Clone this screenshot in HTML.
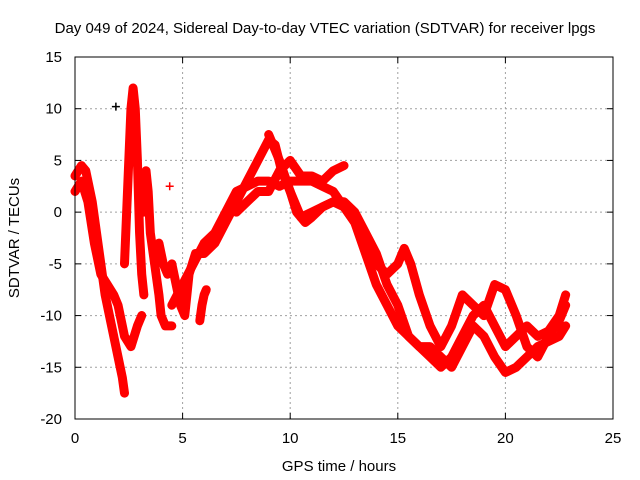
<!DOCTYPE html>
<html><head><meta charset="utf-8"><style>
body{margin:0;background:#fff}
svg{display:block;font-family:"Liberation Sans",sans-serif}
</style></head><body>
<svg id="chart" width="640" height="480">
<rect width="640" height="480" fill="#fff"/>
<text x="325" y="33" font-size="15" text-anchor="middle">Day 049 of 2024, Sidereal Day-to-day VTEC variation (SDTVAR) for receiver lpgs</text>
<g id="grid"></g>
<g id="marks"></g>
<rect x="75" y="57" width="538" height="362" fill="none" stroke="#000" stroke-width="1"/>
<g id="ticks"></g>
<text x="339" y="471" font-size="15" text-anchor="middle">GPS time / hours</text>
<text x="19" y="238" font-size="15" text-anchor="middle" transform="rotate(-90 19 238)">SDTVAR / TECUs</text>
</svg>
<script>
const xTicks=[0,5,10,15,20,25];
const yTicks=[15,10,5,0,-5,-10,-15,-20];
const trackA=[[0,3.5],[0.3,4.5],[0.5,4],[0.8,1],[1,-2],[1.2,-5],[1.4,-8],[1.6,-10],[1.8,-12],[2,-14],[2.2,-16],[2.3,-17.5]];
const trackB=[[0,2],[0.3,3],[0.6,1],[0.9,-3],[1.2,-6],[1.5,-7],[1.8,-8],[2.0,-9],[2.3,-12],[2.6,-13],[2.9,-11],[3.1,-10]];
const trackC=[[2.3,-5],[2.4,0],[2.5,5],[2.6,10],[2.7,12],[2.8,10],[2.9,5],[3.0,-2],[3.1,-6],[3.2,-8]];
const trackD=[[3.2,0],[3.3,4],[3.4,2],[3.5,-2],[3.7,-5],[3.9,-8],[4,-10],[4.2,-11],[4.5,-11]];
const trackE=[[3.9,-3],[4.1,-5],[4.3,-6],[4.5,-5],[4.7,-7],[4.9,-9],[5.1,-10],[5.3,-6],[5.6,-4],[6,-4],[6.5,-3],[7,-1],[7.5,1],[8,3],[8.5,5],[9,7],[9.3,6.5],[9.6,4],[10,2],[10.3,0],[10.7,-1],[11,-0.5],[11.5,0.5],[12,1],[12.5,0.5],[13,-1],[13.5,-4],[14,-7],[14.5,-9],[15,-11],[15.5,-12],[16,-13],[16.5,-14],[17,-15],[17.5,-14],[18,-12],[18.5,-10],[19,-9],[19.5,-11],[20,-13],[20.5,-12],[21,-11],[21.5,-12],[22,-11.5],[22.5,-10],[22.8,-8]];
const trackF=[[4.5,-9],[5,-7],[5.5,-5],[6,-3],[6.5,-2],[7,0],[7.5,2],[8,2.5],[8.5,3],[9,3],[9.5,2.5],[10,3],[10.5,3],[11,3],[11.5,2.5],[12,2],[12.5,0.5],[13,-1],[13.5,-3],[14,-5],[14.5,-6],[15,-5],[15.3,-3.5],[15.6,-5],[16,-8],[16.5,-11],[17,-13],[17.5,-11],[18,-8],[18.5,-9],[19,-10],[19.5,-7],[20,-7.5],[20.5,-10],[21,-13],[21.5,-14],[22,-12],[22.5,-10.5],[22.8,-9]];
const trackG=[[7.5,0],[8,1],[8.5,2],[9,2],[9.5,4],[10,5],[10.5,3.5],[11,3.5],[11.5,3],[12,4],[12.5,4.5]];
const trackH=[[9,7.5],[9.5,5],[10,2],[10.5,-0.5],[11,0],[11.5,0.5],[12,1],[12.5,1],[13,0],[13.5,-2],[14,-4],[14.5,-7],[15,-9],[15.5,-12],[16,-13],[16.5,-13],[17,-14],[17.5,-15],[18,-13],[18.5,-11],[19,-12],[19.5,-14],[20,-15.5],[20.5,-15],[21,-14],[21.5,-13],[22,-12.5],[22.5,-12],[22.8,-11]];
const trackI=[[5.8,-10.5],[5.9,-9],[6,-8],[6.1,-7.5]];
const isolated=[[4.4,2.5],[1.9,10.2]];
const tracks=[trackA,trackB,trackC,trackD,trackE,trackF,trackG,trackH,trackI];

const X0=75,X1=613,Y0=419,Y1=57;
const sx=v=>X0+(v-0)/(25-0)*(X1-X0);
const sy=v=>Y0-(v+20)/(15+20)*(Y0-Y1);
const NS="http://www.w3.org/2000/svg";
const grid=document.getElementById('grid'),ticks=document.getElementById('ticks'),marks=document.getElementById('marks');
function mk(t,a,p){const e=document.createElementNS(NS,t);for(const k in a)e.setAttribute(k,a[k]);p.appendChild(e);return e;}
xTicks.forEach(v=>{
  const x=sx(v);
  if(v>0&&v<25){const g=mk('line',{x1:x,x2:x,y1:Y1,y2:Y0,stroke:'#a0a0a0','stroke-dasharray':'2,3'},grid);
  
  }
  mk('line',{x1:x,x2:x,y1:Y0,y2:Y0-6,stroke:'#000'},ticks);
  mk('line',{x1:x,x2:x,y1:Y1,y2:Y1+6,stroke:'#000'},ticks);
  const t=mk('text',{x:x,y:443,'font-size':15,'text-anchor':'middle'},ticks);t.textContent=v;
  
  
});
yTicks.forEach(v=>{
  const y=sy(v);
  if(v<15&&v>-20){const g=mk('line',{x1:X0,x2:X1,y1:y,y2:y,stroke:'#a0a0a0','stroke-dasharray':'2,3'},grid);
  
  }
  mk('line',{x1:X0,x2:X0+6,y1:y,y2:y,stroke:'#000'},ticks);
  mk('line',{x1:X1,x2:X1-6,y1:y,y2:y,stroke:'#000'},ticks);
  const t=mk('text',{x:62,y:y+5,'font-size':15,'text-anchor':'end'},ticks);t.textContent=v;
  
  
});
function cross(x,y,c){
  const p=mk('path',{d:`M${x-4},${y}h8M${x},${y-4}v8`,stroke:c,'stroke-width':1.5},marks);
  
  
}
tracks.forEach(tr=>{
  const pl=mk('polyline',{points:tr.map(p=>sx(p[0])+','+sy(p[1])).join(' '),fill:'none',stroke:'#ff0000','stroke-width':9,'stroke-linejoin':'round','stroke-linecap':'round'},marks);
  
  
  tr.forEach(p=>cross(sx(p[0]),sy(p[1]),'#ff0000'));
});
isolated.forEach((p,i)=>cross(sx(p[0]),sy(p[1]),i==1?'#000':'#ff0000'));
</script>
</body></html>
